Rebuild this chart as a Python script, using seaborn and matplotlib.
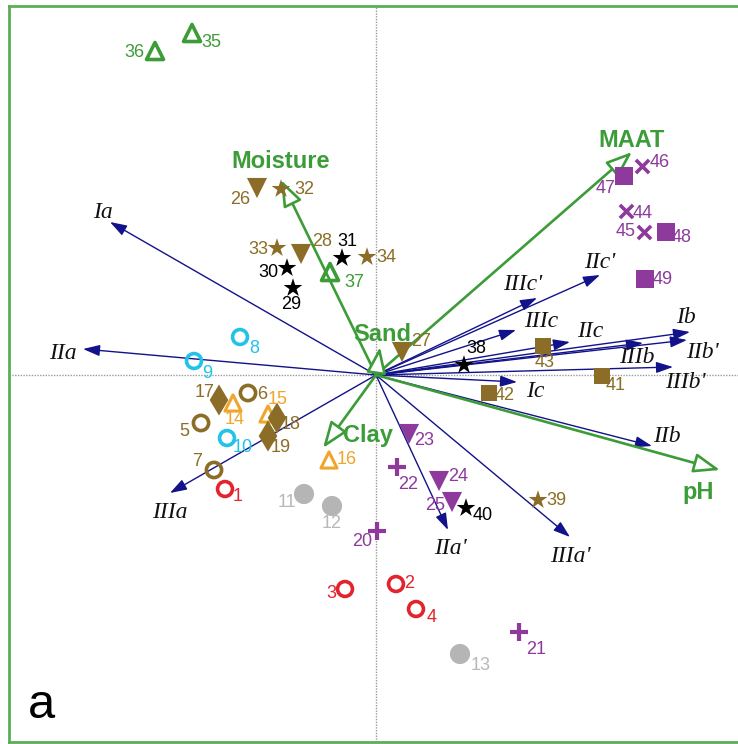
import pandas as pd
import matplotlib
matplotlib.use("Agg")
import matplotlib.pyplot as plt
import seaborn as sns

# site scores
site_id = list(range(1, 50))
site_x = [-1.51, 0.20, -0.31, 0.40, -1.75, -1.28, -1.62, -1.36, -1.82, -1.49,
          -0.72, -0.44, 0.84, -1.43, -1.08, -0.47, -1.57, -0.99, -1.08, 0.01,
          1.43, 0.21, 0.33, 0.63, 0.76, -1.19, 0.26, -0.75, -0.83, -0.89,
          -0.34, -0.95, -0.99, -0.09, -1.84, -2.21, -0.46, 0.88, 1.62, 0.90,
          2.26, 1.13, 1.67, 2.50, 2.68, 2.66, 2.48, 2.90, 2.69]
site_y = [-1.14, -2.09, -2.14, -2.34, -0.48, -0.18, -0.95, 0.38, 0.14, -0.63,
          -1.19, -1.31, -2.79, -0.28, -0.39, -0.85, -0.25, -0.43, -0.61, -1.56,
          -2.57, -0.92, -0.59, -1.06, -1.27, 1.87, 0.23, 1.21, 0.87, 1.07,
          1.17, 1.86, 1.27, 1.18, 3.42, 3.24, 1.03, 0.10, -1.25, -1.33,
          -0.01, -0.18, 0.29, 1.64, 1.43, 2.09, 1.99, 1.43, 0.96]
site_group = (["red_o"] * 4 + ["olive_o"] * 3 + ["cyan_o"] * 3 + ["grey"] * 3 +
              ["orange_tri"] * 3 + ["olive_dia"] * 3 + ["purple_plus"] * 3 +
              ["purple_down"] * 3 + ["olive_down"] * 3 + ["black_star"] * 3 +
              ["olive_star"] * 3 + ["green_tri"] * 3 + ["black_star", "olive_star", "black_star"] +
              ["olive_sq"] * 3 + ["purple_x"] * 3 + ["purple_sq"] * 3)

# species / GDGT arrows
sp_names = ["Ia", "IIa", "IIIa", "IIa'", "IIIa'", "IIb", "Ic", "IIIb'", "IIIb",
            "Ib", "IIb'", "IIc", "IIIc", "IIIc'", "IIc'"]
sp_x = [-2.66, -2.93, -2.06, 0.72, 1.94, 2.76, 1.41, 2.97, 2.67, 3.14, 3.11, 1.94, 1.40, 1.61, 2.24]
sp_y = [1.53, 0.26, -1.18, -1.55, -1.62, -0.71, -0.07, 0.08, 0.32, 0.43, 0.35, 0.33, 0.45, 0.77, 1.00]

# environmental arrows
env_names = ["Moisture", "MAAT", "Sand", "Clay", "pH"]
env_x = [-0.95, 2.56, 0.04, -0.53, 3.44]
env_y = [1.95, 2.23, 0.28, -0.73, -0.95]

df = pd.DataFrame({"id": site_id, "x": site_x, "y": site_y, "group": site_group})

red = "#e2242c"
olive = "#8b6d27"
cyan = "#22c3e6"
grey = "#b5b5b5"
orange = "#f0a52b"
purple = "#8d3a9c"
green = "#3c9c38"
navy = "#12128a"

styles = {
    "red_o": dict(marker="o", s=115, color=red, kind="open", lw=2.6),
    "olive_o": dict(marker="o", s=120, color=olive, kind="open", lw=2.6),
    "cyan_o": dict(marker="o", s=115, color=cyan, kind="open", lw=2.6),
    "grey": dict(marker="o", s=210, color=grey, kind="filled", lw=0),
    "orange_tri": dict(marker="^", s=135, color=orange, kind="open", lw=2.2),
    "olive_dia": dict(marker="d", s=250, color=olive, kind="filled", lw=0),
    "purple_plus": dict(marker="+", s=160, color=purple, kind="line", lw=3.0),
    "purple_down": dict(marker="v", s=210, color=purple, kind="filled", lw=0),
    "olive_down": dict(marker="v", s=210, color=olive, kind="filled", lw=0),
    "black_star": dict(marker="*", s=200, color="black", kind="filled", lw=0),
    "olive_star": dict(marker="*", s=200, color=olive, kind="filled", lw=0),
    "green_tri": dict(marker="^", s=150, color=green, kind="open", lw=2.6),
    "olive_sq": dict(marker="s", s=145, color=olive, kind="filled", lw=0),
    "purple_x": dict(marker="x", s=90, color=purple, kind="line", lw=2.6),
    "purple_sq": dict(marker="s", s=155, color=purple, kind="filled", lw=0),
}
label_color = {"grey": "#b8b8b8"}

# label offsets in pixels (dx, dy)
site_off = {1: (13, -8), 2: (13, 1), 3: (-14, -5), 4: (16, -9), 5: (-17, -9),
            6: (14, -2), 7: (-17, 8), 8: (14, -12), 9: (13, -13), 10: (16, -10),
            11: (-17, -9), 12: (0, -17), 13: (21, -12), 14: (2, -17), 15: (10, 14),
            16: (18, 0), 17: (-14, 7), 18: (14, -7), 19: (13, -12), 20: (-15, -10),
            21: (17, -17), 22: (11, -18), 23: (15, -7), 24: (19, 4), 25: (-17, -4),
            26: (-17, -12), 27: (19, 10), 28: (21, 12), 29: (-2, -17), 30: (-19, -5),
            31: (5, 16), 32: (23, -1), 33: (-19, -2), 34: (19, -1), 35: (19, -10),
            36: (-21, -2), 37: (24, -11), 38: (12, 16), 39: (18, -1), 40: (17, -7),
            41: (14, -10), 42: (16, -3), 43: (2, -17), 44: (17, -2), 45: (-18, 0),
            46: (18, 3), 47: (-18, -13), 48: (16, -6), 49: (18, -1)}
sp_off = {"Ia": (-7, 9), "IIa": (-20, -5), "IIIa": (0, -19), "IIa'": (2, -18),
          "IIIa'": (0, -19), "IIb": (15, 9), "Ic": (18, -10), "IIIb'": (12, -16),
          "IIIb": (-6, -15), "Ib": (-4, 14), "IIb'": (15, -13), "IIc": (20, 10),
          "IIIc": (25, 8), "IIIc'": (-14, 13), "IIc'": (0, 12)}
env_off = {"Moisture": (0, 18), "MAAT": (0, 11), "Sand": (2, 12),
           "Clay": (45, 12), "pH": (-22, -23)}

sns.set_style("white")
sans = ["Liberation Sans", "DejaVu Sans"]

fig = plt.figure(figsize=(7.38, 7.44), dpi=100)
ax = fig.add_axes([9 / 738, 2 / 744, 1 - 9 / 738, 736 / 744])
ax.set_xlim(-3.67, 3.62)
ax.set_ylim(-3.67, 3.69)

ax.axhline(0, color="#9a9a9a", lw=1, ls=(0, (1, 1)), zorder=1)
ax.axvline(0, color="#9a9a9a", lw=1, ls=(0, (1, 1)), zorder=1)

for g, st in styles.items():
    sub = df[df["group"] == g]
    if st["kind"] == "open":
        sns.scatterplot(data=sub, x="x", y="y", marker=st["marker"], s=st["s"],
                        color=st["color"], facecolor="none", edgecolor=st["color"],
                        linewidth=st["lw"], ax=ax, legend=False, zorder=3)
    elif st["kind"] == "line":
        ax.scatter(sub["x"], sub["y"], marker=st["marker"], s=st["s"],
                   color=st["color"], linewidths=st["lw"], zorder=3)
    else:
        sns.scatterplot(data=sub, x="x", y="y", marker=st["marker"], s=st["s"],
                        color=st["color"], edgecolor="none", linewidth=0,
                        ax=ax, legend=False, zorder=3)
    lc = label_color.get(g, st["color"])
    for _, r in sub.iterrows():
        ax.annotate(str(r["id"]), (r["x"], r["y"]), xytext=site_off[r["id"]],
                    textcoords="offset pixels", ha="center", va="center",
                    color=lc, fontsize=13, family=sans, zorder=4)

for name, x, y in zip(sp_names, sp_x, sp_y):
    ax.annotate("", xy=(x, y), xytext=(0, 0),
                arrowprops=dict(arrowstyle="-|>,head_length=0.6,head_width=0.2",
                                color=navy, lw=1.0, mutation_scale=17,
                                shrinkA=0, shrinkB=0), zorder=2)
    ax.annotate(name, (x, y), xytext=sp_off[name], textcoords="offset pixels",
                ha="center", va="center", fontsize=17, style="italic",
                family=["Liberation Serif", "DejaVu Serif"], color="#111111", zorder=4)

for name, x, y in zip(env_names, env_x, env_y):
    ax.annotate("", xy=(x, y), xytext=(0, 0),
                arrowprops=dict(arrowstyle="-|>,head_length=0.8,head_width=0.3",
                                fc="white", ec=green, lw=1.9, mutation_scale=20,
                                shrinkA=0, shrinkB=0), zorder=2.5)
    ax.annotate(name, (x, y), xytext=env_off[name], textcoords="offset pixels",
                ha="center", va="center", fontsize=17, fontweight="bold",
                family=sans, color=green, zorder=4)

ax.text(41, 744 - 718, "a", transform=None, fontsize=35, ha="center", va="baseline",
        family=sans, color="black")

ax.set_xticks([])
ax.set_yticks([])
ax.set_xlabel("")
ax.set_ylabel("")
for side in ["left", "top", "bottom"]:
    ax.spines[side].set_color("#5cae55")
    ax.spines[side].set_linewidth(2)
ax.spines["right"].set_visible(False)

fig.savefig("out.png", dpi=100)
